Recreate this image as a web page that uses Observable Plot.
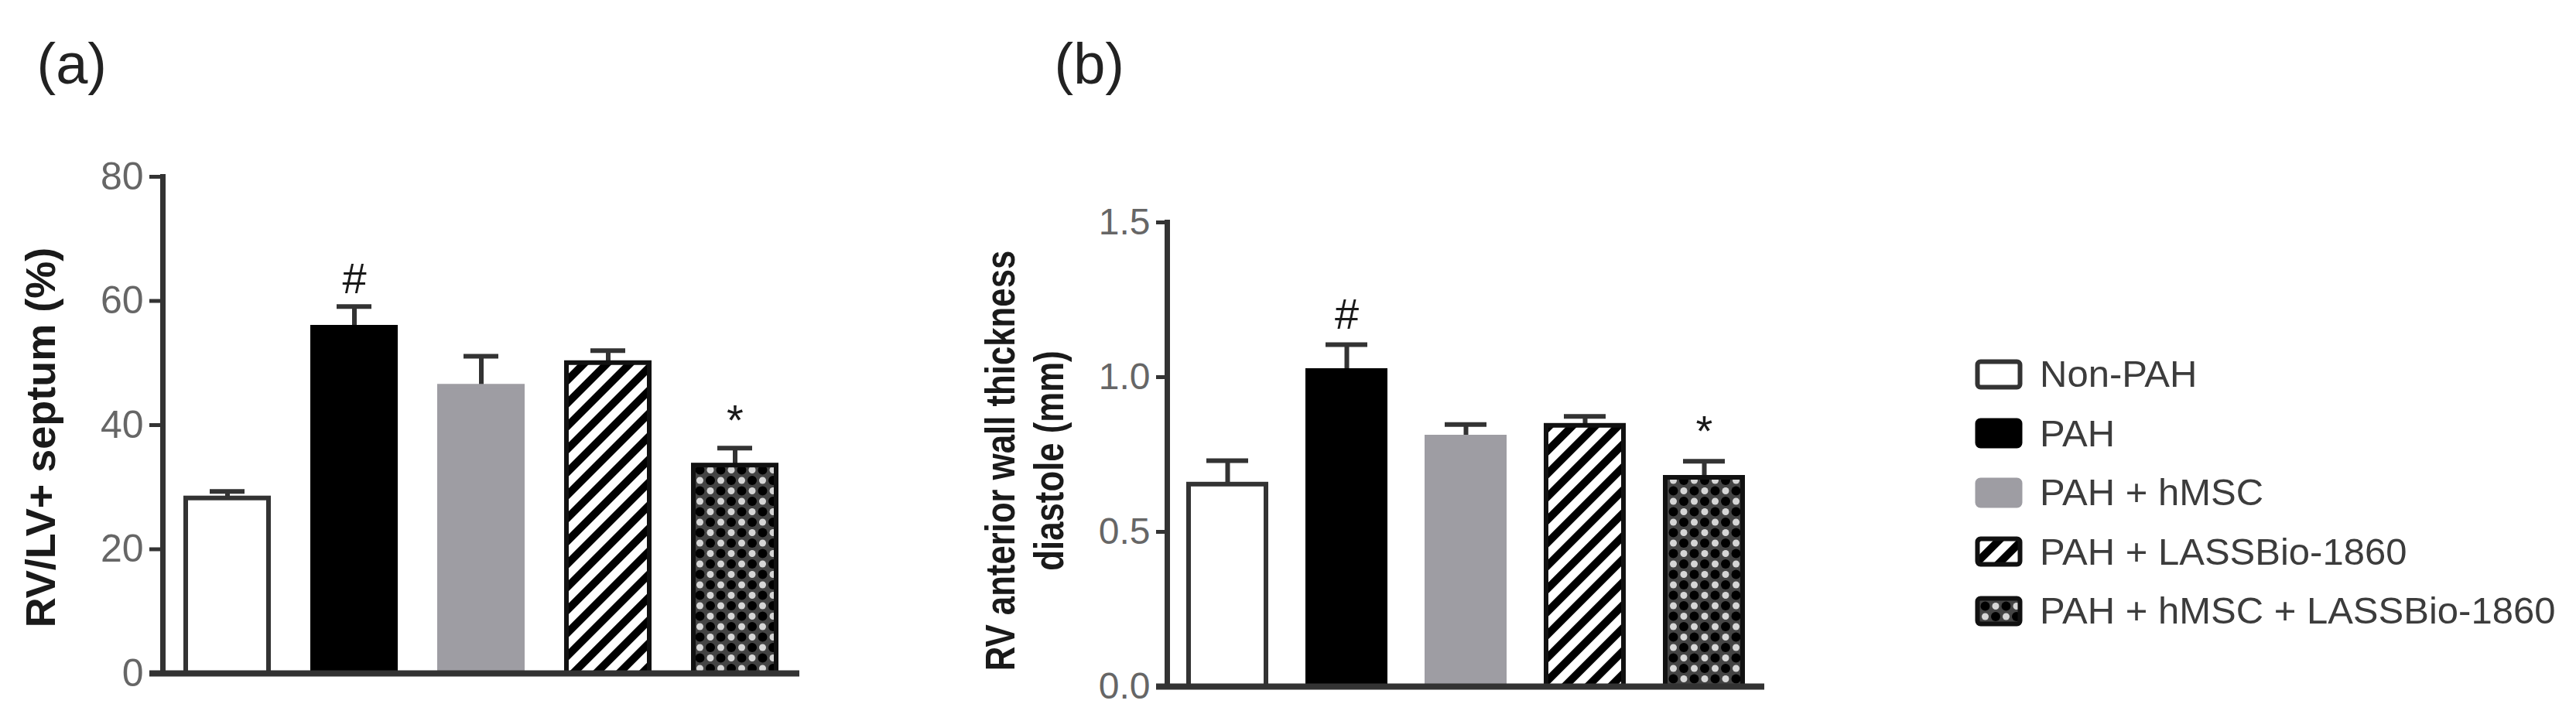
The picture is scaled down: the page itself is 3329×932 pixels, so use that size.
<!DOCTYPE html>
<html><head><meta charset="utf-8">
<script src="https://cdn.jsdelivr.net/npm/d3@7"></script>
<script src="https://cdn.jsdelivr.net/npm/@observablehq/plot@0.6"></script>
<style>
html,body{margin:0;padding:0;background:#fff;}
#root{position:relative;width:3329px;height:932px;overflow:hidden;font-family:"Liberation Sans",Arial,sans-serif;background:#fff;}
.panel{position:absolute;top:0;}
#legend{position:absolute;left:2552px;top:0;}
.lrow{position:absolute;left:0;display:flex;align-items:center;white-space:nowrap;}
.lrow span{font-size:49px;color:#3c3c3c;margin-left:22px;line-height:1;}
</style></head><body>
<svg width="0" height="0" style="position:absolute">
  <defs>
    <pattern id="hatch" patternUnits="userSpaceOnUse" width="21" height="21" patternTransform="rotate(45)">
      <rect width="21" height="21" fill="#fff"/>
      <rect width="10" height="21" fill="#000"/>
    </pattern>
    <pattern id="dots" patternUnits="userSpaceOnUse" width="27" height="27">
      <rect width="27" height="27" fill="#444"/>
      <circle cx="13.5" cy="0" r="4.5" fill="#d6d6d6"/>
      <circle cx="0" cy="13.5" r="4.5" fill="#d6d6d6"/>
      <circle cx="27" cy="13.5" r="4.5" fill="#d6d6d6"/>
      <circle cx="13.5" cy="27" r="4.5" fill="#d6d6d6"/>
      <circle cx="0" cy="0" r="6" fill="#000"/>
      <circle cx="27" cy="0" r="6" fill="#000"/>
      <circle cx="0" cy="27" r="6" fill="#000"/>
      <circle cx="27" cy="27" r="6" fill="#000"/>
      <circle cx="13.5" cy="13.5" r="6" fill="#000"/>
    </pattern>
  </defs>
</svg>
<div id="root"></div>
<script>
// ---- data ----
const groups = ["Non-PAH", "PAH", "PAH + hMSC", "PAH + LASSBio-1860", "PAH + hMSC + LASSBio-1860"];
const rvlvMean = [28.2, 55.7, 46.2, 50.0, 33.5];
const rvlvSem  = [1.1, 3.4, 4.9, 2.0, 2.8];
const rvlvSig  = ["", "#", "", "", "*"];
const rvlvTicks = [0, 20, 40, 60, 80];
const awtMean = [0.653, 1.02, 0.805, 0.843, 0.675];
const awtSem  = [0.077, 0.085, 0.042, 0.030, 0.053];
const awtSig  = ["", "#", "", "", "*"];
const awtTicks = [0, 0.5, 1.0, 1.5];
const panelTags = ["(a)", "(b)"];
const yLabels = ["RV/LV+ septum (%)", "RV anterior wall thickness\ndiastole (mm)"];

// ---- styles ----
const fills = {
  "Non-PAH": "#ffffff",
  "PAH": "#000000",
  "PAH + hMSC": "#9e9da3",
  "PAH + LASSBio-1860": "url(#hatch)",
  "PAH + hMSC + LASSBio-1860": "url(#dots)"
};
const strokes = {
  "Non-PAH": "#333333",
  "PAH": "#000000",
  "PAH + hMSC": "#9e9da3",
  "PAH + LASSBio-1860": "#111111",
  "PAH + hMSC + LASSBio-1860": "#111111"
};
const axisColor = "#333";
const font = '"Liberation Sans", Arial, sans-serif';

function panel(cfg) {
  const rows = groups.map((g, i) => ({group: g, mean: cfg.mean[i], top: cfg.mean[i] + cfg.sem[i], sig: cfg.sig[i]}));
  const svg = Plot.plot({
    width: cfg.width, height: 932,
    marginLeft: cfg.marginLeft, marginRight: cfg.marginRight,
    marginTop: cfg.marginTop, marginBottom: cfg.marginBottom,
    style: {fontFamily: font, background: "transparent", overflow: "visible"},
    x: {domain: groups, axis: null, paddingInner: 0.35, paddingOuter: 0.175},
    y: {domain: cfg.domain, axis: null},
    color: {type: "identity"},
    marks: [
      Plot.ruleX(rows, {x: "group", y1: "mean", y2: "top", stroke: axisColor, strokeWidth: 6}),
      Plot.tickY(rows, {x: "group", y: "top", stroke: axisColor, strokeWidth: 6, insetLeft: cfg.capInset, insetRight: cfg.capInset}),
      Plot.barY(rows, {x: "group", y: "mean", fill: d => fills[d.group], stroke: d => strokes[d.group], strokeWidth: 6}),
      Plot.ruleY([0], {stroke: axisColor, strokeWidth: 8, insetLeft: -cfg.tickSize}),
      Plot.axisY({ticks: cfg.ticks, tickFormat: cfg.fmt, tickSize: cfg.tickSize, tickPadding: 8,
        fontSize: cfg.tickFont, fill: "#666", stroke: axisColor, strokeWidth: 5, label: null}),
      Plot.frame({anchor: "left", stroke: axisColor, strokeWidth: 7}),
      Plot.text([cfg.label], {frameAnchor: "left", textAnchor: "middle", rotate: -90, dx: cfg.labelDx, dy: cfg.labelDy,
        fontSize: cfg.labelFont, fontWeight: "bold", fill: "#1a1a1a", lineHeight: cfg.lineHeight,
        className: "ylab"}),
      Plot.text(rows, {x: "group", y: "top", text: "sig", dy: cfg.sigDy, fontSize: 56, fill: "#1a1a1a"}),
      Plot.text([cfg.tag], {frameAnchor: "top-left", dx: cfg.tagDx, dy: cfg.tagDy, textAnchor: "start",
        lineAnchor: "bottom", fontSize: 74, fill: "#222"})
    ]
  });
  if (cfg.labelSquash !== 1) {
    svg.querySelectorAll("text").forEach(t => {
      if (t.textContent.startsWith(cfg.label.split("\n")[0].slice(0, 6))) {
        const tr = t.getAttribute("transform") || "";
        t.setAttribute("transform", tr + ` scale(${cfg.labelSquash},1)`);
      }
    });
  }
  return svg;
}

const root = document.getElementById("root");

const pa = panel({
  mean: rvlvMean, sem: rvlvSem, sig: rvlvSig, ticks: rvlvTicks, fmt: d => String(d), domain: [0, 80],
  width: 1100, marginLeft: 210, marginRight: 67, marginTop: 228, marginBottom: 62,
  capInset: 31, tickSize: 17, tickFont: 50, label: yLabels[0], labelDx: -160, labelDy: 16,
  labelFont: 54, lineHeight: 1.2, labelSquash: 1, sigDy: -35, tag: panelTags[0], tagDx: -163, tagDy: -121
});
pa.classList.add("panel"); pa.style.left = "0px";
root.appendChild(pa);

const pb = panel({
  mean: awtMean, sem: awtSem, sig: awtSig, ticks: awtTicks, fmt: d3.format(".1f"), domain: [0, 1.5],
  width: 1200, marginLeft: 358, marginRight: 70, marginTop: 287, marginBottom: 45,
  capInset: 23, tickSize: 14, tickFont: 48, label: yLabels[1], labelDx: -186, labelDy: 8,
  labelFont: 54, lineHeight: 1.17, labelSquash: 0.81, sigDy: -38, tag: panelTags[1], tagDx: -146, tagDy: -180
});
pb.classList.add("panel"); pb.style.left = "1150px";
root.appendChild(pb);

// ---- legend ----
const legend = d3.select(root).append("div").attr("id", "legend");
groups.forEach((g, i) => {
  const row = legend.append("div").attr("class", "lrow").style("top", (459 + i * 76.5) + "px");
  const sw = row.append("svg").attr("width", 62).attr("height", 40);
  sw.append("rect").attr("x", 3.5).attr("y", 3.5).attr("width", 55).attr("height", 33).attr("rx", 4)
    .attr("fill", fills[g]).attr("stroke", strokes[g]).attr("stroke-width", 6);
  row.append("span").text(g);
});
</script>
</body></html>
